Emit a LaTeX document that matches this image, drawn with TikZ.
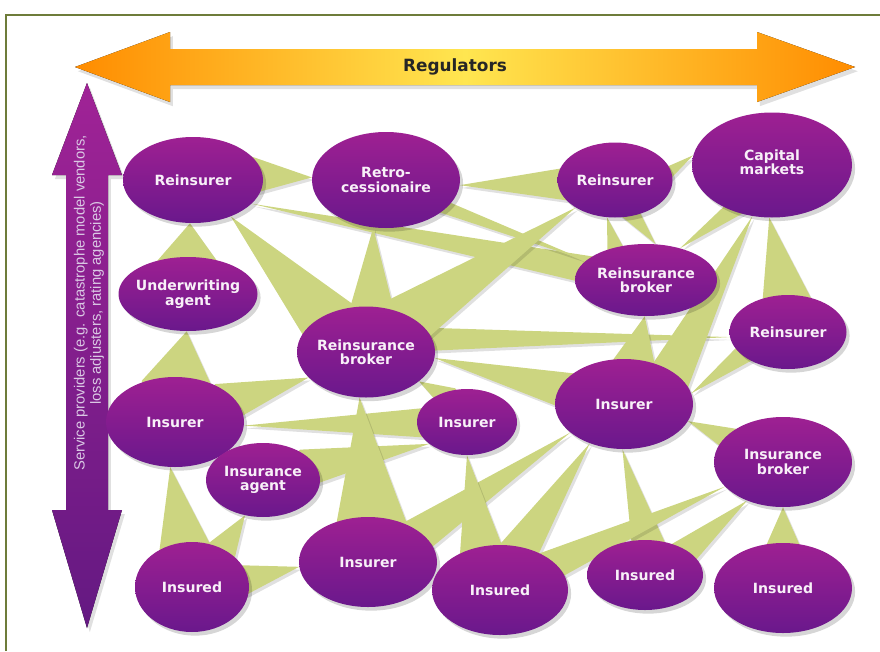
\documentclass[tikz,border=0pt]{standalone}
\usepackage{fontspec}
\setmainfont{DejaVu Sans}
\newfontfamily\labfont{Liberation Sans}
\usetikzlibrary{calc,shadows,shapes.geometric}
\pgfdeclarelayer{back}
\pgfdeclarelayer{wlay}
\pgfsetlayers{back,wlay,main}
\definecolor{wedgecol}{RGB}{204,213,128}
\definecolor{purpT}{RGB}{158,32,146}
\definecolor{purpB}{RGB}{106,24,140}
\definecolor{frameol}{RGB}{110,124,58}
\definecolor{orangeA}{RGB}{255,140,0}
\definecolor{yellowA}{RGB}{255,230,80}
\definecolor{arrT}{RGB}{160,35,150}
\definecolor{arrB}{RGB}{100,25,130}
\definecolor{svccol}{RGB}{218,200,228}
\definecolor{txtcol}{RGB}{248,240,248}
\tikzset{
  softshadow/.style={drop shadow={shadow xshift=2.2pt, shadow yshift=-2.6pt, fill=black, opacity=0.16}},
  ent/.style 2 args={ellipse, inner sep=0pt,
    minimum width=#1*0.025cm, minimum height=#2*0.025cm,
    top color=purpT, bottom color=purpB, softshadow},
  txt/.style={text=txtcol, align=center, inner sep=0pt,
    font=\bfseries\fontsize{10}{10.2}\selectfont},
  wdgst/.style={fill=wedgecol,
    drop shadow={shadow xshift=1.5pt, shadow yshift=-2pt, fill=black, opacity=0.12}}
}
% base node, base angle, half width (px), tip node, tip angle
\newcommand\wdg[5]{%
  \path ($(#1.#2)!0.22!(#1.center)$) coordinate (wb);
  \fill[wdgst] ($(wb)!#3*0.025cm!90:(#4.#5)$) -- (#1.center) --
     ($(wb)!#3*0.025cm!-90:(#4.#5)$) -- (#4.#5) -- cycle;}
\begin{document}
\begin{tikzpicture}[x=0.025cm, y=-0.025cm]
\useasboundingbox (0,0) rectangle (880,651);
\begin{pgfonlayer}{back}
  \draw[frameol, line width=1.2pt] (6,651) -- (6,15) -- (880,15);
  % regulators arrow
  \fill[left color=orangeA, right color=orangeA, middle color=yellowA,
        drop shadow={shadow xshift=2pt, shadow yshift=-3pt, fill=black, opacity=0.12}]
    (75,67) -- (170,32) -- (170,49) -- (757,49) -- (757,32) -- (855,67)
    -- (757,102) -- (757,85) -- (170,85) -- (170,102) -- cycle;
  % service providers arrow
  \fill[top color=arrT, bottom color=arrB,
        drop shadow={shadow xshift=2pt, shadow yshift=-3pt, fill=black, opacity=0.12}]
    (87,83) -- (122,175) -- (108,175) -- (108,510) -- (122,510) -- (87,628)
    -- (52,510) -- (66,510) -- (66,175) -- (52,175) -- cycle;
\end{pgfonlayer}
\node[font=\bfseries\fontsize{12}{12}\selectfont, text=black!85] (reg) at (455,67) {Regulators};
\node[rotate=90, align=center, text=svccol, font=\labfont\fontsize{10.5}{11.5}\selectfont] (svc) at (89,303)
  {Service providers (e.g. catastrophe model vendors,\\loss adjusters, rating agencies)};

% entities
\node[ent={140}{86}] (rA) at (193,180) {};
\node[ent={148}{96}] (ret) at (386,180) {};
\node[ent={115}{75}] (rB) at (615,180) {};
\node[ent={160}{105}] (cap) at (772,165) {};
\node[ent={139}{74}] (uw) at (188,294) {};
\node[ent={138}{91}] (rbA) at (366,352) {};
\node[ent={142}{72}] (rbB) at (646,280) {};
\node[ent={117}{74}] (rC) at (788,332) {};
\node[ent={138}{90}] (iA) at (175,422) {};
\node[ent={100}{66}] (iB) at (467,422) {};
\node[ent={138}{90}] (iC) at (624,404) {};
\node[ent={114}{74}] (ag) at (263,480) {};
\node[ent={138}{90}] (ib) at (783,462) {};
\node[ent={114}{90}] (d1) at (192,587) {};
\node[ent={138}{90}] (iD) at (368,562) {};
\node[ent={136}{90}] (d2) at (500,590) {};
\node[ent={116}{70}] (d3) at (645,575) {};
\node[ent={138}{90}] (d4) at (783,588) {};

\node[txt] (rAt) at (rA) {Reinsurer};
\node[txt] (rett) at (ret) {Retro-\\cessionaire};
\node[txt] (rBt) at (rB) {Reinsurer};
\node[txt] (capt) at ($(cap)+(0,-3)$) {Capital\\markets};
\node[txt] (uwt) at (uw) {Underwriting\\agent};
\node[txt] (rbAt) at (rbA) {Reinsurance\\broker};
\node[txt] (rbBt) at (rbB) {Reinsurance\\broker};
\node[txt] (rCt) at (rC) {Reinsurer};
\node[txt] (iAt) at (iA) {Insurer};
\node[txt] (iBt) at (iB) {Insurer};
\node[txt] (iCt) at (iC) {Insurer};
\node[txt] (agt) at (ag) {Insurance\\agent};
\node[txt] (ibt) at (ib) {Insurance\\broker};
\node[txt] (d1t) at (d1) {Insured};
\node[txt] (iDt) at (iD) {Insurer};
\node[txt] (d2t) at (d2) {Insured};
\node[txt] (d3t) at (d3) {Insured};
\node[txt] (d4t) at (d4) {Insured};

\begin{pgfonlayer}{wlay}
\wdg{rA}{5}{20}{ret}{178}
\wdg{rB}{185}{17}{ret}{356}
\wdg{rB}{2}{8}{cap}{173}
\wdg{rbB}{170}{14}{rA}{338}
\wdg{ret}{334}{7}{rbB}{162}
\wdg{rbA}{142}{30}{rA}{316}
\wdg{rbA}{81}{24}{ret}{255}
\wdg{uw}{90}{33}{rA}{266}
\wdg{iA}{85}{37}{uw}{268}
\wdg{iA}{21}{21}{rbA}{204}
\wdg{iB}{181}{15}{iA}{357}
\wdg{ag}{16}{19}{iB}{210}
\wdg{iD}{85}{36}{rbA}{262}
\wdg{iB}{127}{12}{rbA}{331}
\wdg{rbA}{14}{12}{rC}{185}
\wdg{iC}{167}{19}{rbA}{355}
\wdg{rbA}{38}{28}{rB}{215}
\wdg{iC}{75}{24}{rbB}{268}
\wdg{rbB}{140}{10}{rB}{258}
\wdg{rB}{293}{10}{rbB}{75}
\wdg{cap}{232}{10}{rbB}{43}
\wdg{iC}{27}{22}{cap}{249}
\wdg{rC}{93}{25}{cap}{267}
\wdg{rC}{204}{11}{iC}{9}
\wdg{ib}{157}{14}{iC}{345}
\wdg{iD}{27}{19}{iC}{208}
\wdg{d2}{118}{23}{iB}{270}
\wdg{d2}{65}{20}{iC}{229}
\wdg{d3}{82}{17}{iC}{268}
\wdg{d2}{26}{16}{ib}{203}
\wdg{d3}{28}{15}{ib}{227}
\wdg{d4}{90}{20}{ib}{270}
\wdg{d1}{101}{27}{iA}{264}
\wdg{d1}{49}{18}{ag}{243}
\wdg{d1}{7}{17}{iD}{184}
\end{pgfonlayer}
\end{tikzpicture}
\end{document}
